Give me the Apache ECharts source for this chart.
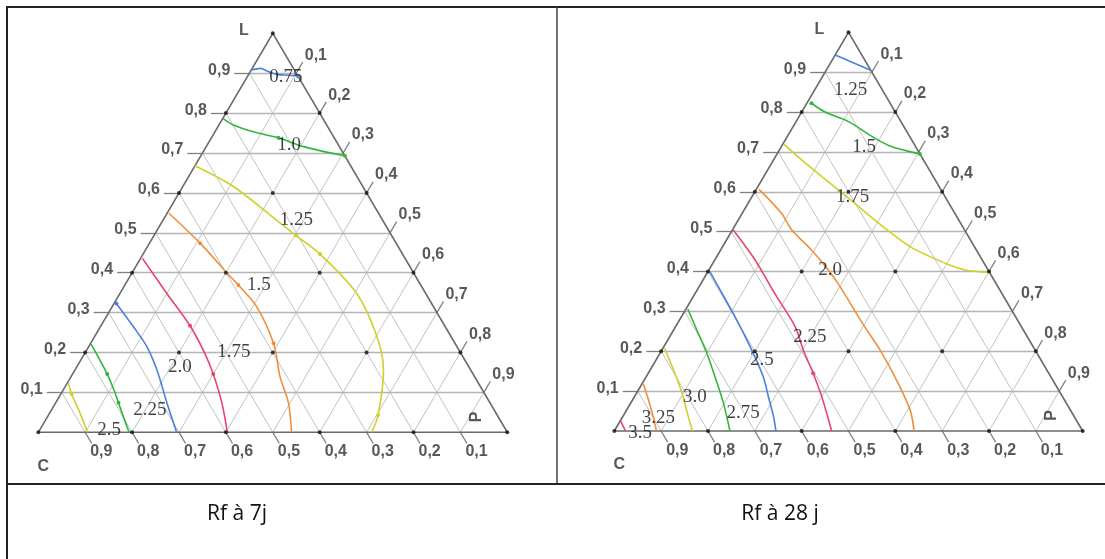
<!DOCTYPE html>
<html>
<head>
<meta charset="utf-8">
<script src="https://cdn.jsdelivr.net/npm/echarts@6/dist/echarts.min.js"></script>
<style>
  html, body { margin: 0; padding: 0; background: #ffffff; }
  #chart { width: 1105px; height: 559px; }
</style>
</head>
<body>
<div id="chart"></div>
<script>
// Ternary compositions are written as [L, P]; the third part is C = 1 - L - P.
// L sits at the top vertex, C at the bottom-left, P at the bottom-right.

const tickValues = [0.1, 0.2, 0.3, 0.4, 0.5, 0.6, 0.7, 0.8, 0.9];
const tickLabels = ['0,1', '0,2', '0,3', '0,4', '0,5', '0,6', '0,7', '0,8', '0,9'];
const markedSteps = [0, 0.2, 0.4, 0.6, 0.8, 1];

// Rf at 7 days
const rf7Labels = ['0.75', '1.0', '1.25', '1.5', '1.75', '2.0', '2.25', '2.5'];
const rf7Paths = [
  [[0.908, 0], [0.912, 0.018], [0.905, 0.036], [0.897, 0.06], [0.895, 0.085], [0.893, 0.107]],
  [[0.787, 0], [0.770, 0.031], [0.753, 0.082], [0.738, 0.143], [0.716, 0.207], [0.693, 0.307]],
  [[0.668, 0], [0.616, 0.108], [0.528, 0.248], [0.493, 0.303], [0.447, 0.377], [0.348, 0.505],
   [0.240, 0.602], [0.156, 0.658], [0.043, 0.703], [0, 0.711]],
  [[0.549, 0.004], [0.474, 0.108], [0.399, 0.203], [0.369, 0.242], [0.315, 0.308], [0.223, 0.39],
   [0.139, 0.446], [0.073, 0.497], [0, 0.54]],
  [[0.436, 0.004], [0.348, 0.1], [0.267, 0.19], [0.198, 0.256], [0.146, 0.3], [0.073, 0.355], [0, 0.403]],
  [[0.323, 0.005], [0.265, 0.07], [0.215, 0.124], [0.156, 0.175], [0.073, 0.238], [0, 0.295]],
  [[0.221, 0.002], [0.146, 0.074], [0.098, 0.115], [0.074, 0.134], [0.014, 0.182], [0, 0.194]],
  [[0.124, 0.002], [0.096, 0.023], [0.048, 0.065], [0, 0.105]]
];
const rf7LabelAt = [
  [0.890, 0.083], [0.720, 0.175], [0.532, 0.284], [0.369, 0.286],
  [0.202, 0.316], [0.164, 0.220], [0.056, 0.210], [0.006, 0.148]
];
const rf7Dots = [[5], [3, 5], [3, 4, 8], [1, 3, 5], [2, 4], [0], [1, 3], [1]];

// Rf at 28 days
const rf28Labels = ['1.25', '1.5', '1.75', '2.0', '2.25', '2.5', '2.75', '3.0', '3.25', '3.5'];
const rf28Paths = [
  [[0.943, 0], [0.925, 0.045], [0.905, 0.095]],
  [[0.822, 0.01], [0.800, 0.05], [0.776, 0.112], [0.734, 0.19], [0.713, 0.236], [0.695, 0.305]],
  [[0.719, 0.003], [0.680, 0.06], [0.638, 0.124], [0.571, 0.228], [0.509, 0.323], [0.460, 0.405],
   [0.421, 0.496], [0.404, 0.547], [0.398, 0.602]],
  [[0.606, 0.006], [0.546, 0.084], [0.504, 0.127], [0.454, 0.194], [0.404, 0.255], [0.362, 0.301],
   [0.266, 0.399], [0.203, 0.466], [0.136, 0.531], [0.053, 0.605], [0, 0.64]],
  [[0.504, 0.002], [0.429, 0.086], [0.345, 0.17], [0.262, 0.255], [0.203, 0.302], [0.145, 0.352],
   [0.086, 0.4], [0, 0.464]],
  [[0.400, 0.004], [0.362, 0.041], [0.287, 0.114], [0.203, 0.192], [0.136, 0.25], [0.086, 0.286],
   [0.036, 0.322], [0, 0.345]],
  [[0.306, 0.004], [0.262, 0.042], [0.195, 0.1], [0.136, 0.147], [0.07, 0.198], [0, 0.247]],
  [[0.207, 0.004], [0.153, 0.05], [0.095, 0.097], [0.036, 0.14], [0, 0.167]],
  [[0.118, 0.003], [0.078, 0.034], [0.036, 0.065], [0, 0.09]],
  [[0.026, 0], [0, 0.024]]
];
const rf28LabelAt = [
  [0.855, 0.077], [0.713, 0.177], [0.588, 0.215], [0.404, 0.259], [0.2365, 0.2995],
  [0.178, 0.226], [0.044, 0.253], [0.086, 0.129], [0.032, 0.078], [-0.006, 0.058]
];
const rf28Dots = [[], [0, 5], [], [], [5], [], [], [], [], []];

const captions = ['Rf à 7j', 'Rf à 28 j'];

// contour colours cycle through the same five hues
const palette = ['#4b7fe0', '#2fb83c', '#d0d02a', '#f08f3a', '#e8446c'];

function xy(L, P) { return [P + L / 2, L]; }

const TICK_FONT = { fontFamily: 'Liberation Sans, Arial, sans-serif', fontWeight: 'bold', fontSize: 16, color: '#2e2e2e' };

function panelSeries(gi, labels, paths, labelAt, dots) {
  const axes = { xAxisIndex: gi, yAxisIndex: gi };
  const series = [];

  // inner grid lines: horizontal (constant L) and the two diagonal families
  const levelLines = [];
  const diagLines = [];
  tickValues.forEach(k => {
    levelLines.push({ coords: [xy(k, 0), xy(k, 1 - k)] });
    diagLines.push({ coords: [xy(0, k), xy(1 - k, k)] });
    diagLines.push({ coords: [xy(0, 1 - k), xy(1 - k, 0)] });
  });
  series.push(Object.assign({
    type: 'lines', coordinateSystem: 'cartesian2d', silent: true, clip: false,
    lineStyle: { color: '#c2c2c2', width: 1, opacity: 1 }, data: diagLines, z: 1
  }, axes));
  series.push(Object.assign({
    type: 'lines', coordinateSystem: 'cartesian2d', silent: true, clip: false,
    lineStyle: { color: '#b4b4b4', width: 1.4, opacity: 1 }, data: levelLines, z: 1
  }, axes));

  // ticks outside the triangle
  const ticks = [];
  tickValues.forEach(k => {
    ticks.push({ coords: [xy(k, 0), xy(k, -0.032)] });
    ticks.push({ coords: [xy(1 - k, k), xy(1 - k + 0.028, k)] });
    ticks.push({ coords: [xy(0, 1 - k), xy(-0.028, 1 - k + 0.028)] });
  });
  series.push(Object.assign({
    type: 'lines', coordinateSystem: 'cartesian2d', silent: true, clip: false,
    lineStyle: { color: '#808080', width: 1.3, opacity: 1 }, data: ticks, z: 2
  }, axes));

  // triangle outline
  series.push(Object.assign({
    type: 'lines', coordinateSystem: 'cartesian2d', silent: true, clip: false, polyline: true,
    lineStyle: { color: '#6a6a6a', width: 1.6, opacity: 1 },
    data: [{ coords: [xy(0, 0), xy(0, 1), xy(1, 0), xy(0, 0)] }], z: 3
  }, axes));

  // contour lines
  paths.forEach((pts, i) => {
    series.push(Object.assign({
      type: 'line', smooth: 0.3, silent: true, clip: false, z: 5,
      symbol: 'circle', symbolSize: 4, showSymbol: true,
      lineStyle: { color: palette[i % 5], width: 1.6 },
      itemStyle: { color: palette[i % 5] },
      data: pts.map((p, j) => dots[i].includes(j)
        ? { value: xy(p[0], p[1]) }
        : { value: xy(p[0], p[1]), symbol: 'none' })
    }, axes));
  });

  // black markers at the 0.2 grid nodes
  const nodes = [];
  markedSteps.forEach(L => markedSteps.forEach(P => {
    if (L + P <= 1.0001) nodes.push(xy(L, P));
  }));
  series.push(Object.assign({
    type: 'scatter', silent: true, clip: false, symbolSize: 4, z: 6,
    itemStyle: { color: '#111' }, data: nodes
  }, axes));

  // axis tick labels
  series.push(Object.assign({
    type: 'scatter', silent: true, clip: false, symbolSize: 0, z: 7,
    label: Object.assign({ show: true, position: 'left', distance: 19, offset: [0, -3],
      formatter: p => p.data.name }, TICK_FONT),
    data: tickValues.map((k, i) => ({ name: tickLabels[i], value: xy(k, 0) }))
  }, axes));
  series.push(Object.assign({
    type: 'scatter', silent: true, clip: false, symbolSize: 0, z: 7,
    label: Object.assign({ show: true, position: 'right', distance: 8.5, offset: [0, -18],
      formatter: p => p.data.name }, TICK_FONT),
    data: tickValues.map((k, i) => ({ name: tickLabels[i], value: xy(1 - k, k) }))
  }, axes));
  series.push(Object.assign({
    type: 'scatter', silent: true, clip: false, symbolSize: 0, z: 7,
    label: Object.assign({ show: true, position: 'right', distance: 5, offset: [0, 19.4],
      formatter: p => p.data.name }, TICK_FONT),
    data: tickValues.map((k, i) => ({ name: tickLabels[i], value: xy(0, 1 - k) }))
  }, axes));

  // vertex names
  series.push(Object.assign({
    type: 'scatter', silent: true, clip: false, symbolSize: 0, z: 7,
    label: Object.assign({ show: true, position: 'inside', formatter: p => p.data.name }, TICK_FONT),
    data: [
      { name: 'L', value: xy(1, 0), label: { offset: [-29, -3] } },
      { name: 'C', value: xy(0, 0), label: { offset: [5, 34] } },
      { name: 'P', value: xy(0, 1), label: { offset: [15.5, -31], rotate: 90 } }
    ]
  }, axes));

  // contour value labels
  series.push(Object.assign({
    type: 'scatter', silent: true, clip: false, symbolSize: 0, z: 8,
    label: { show: true, position: 'inside', formatter: p => p.data.name,
      fontFamily: 'Liberation Serif, Times New Roman, serif', fontSize: 19, color: '#111' },
    data: labelAt.map((p, i) => ({ name: labels[i], value: xy(p[0], p[1]) }))
  }, axes));

  return series;
}

const chart = echarts.init(document.getElementById('chart'), null, { renderer: 'canvas' });

const hiddenAxis = gi => ({ type: 'value', min: 0, max: 1, show: false, gridIndex: gi });

chart.setOption({
  animation: false,
  backgroundColor: '#ffffff',
  grid: [
    { left: 38.3, top: 33.3, width: 469, height: 399 },
    { left: 614.3, top: 32.3, width: 468.4, height: 398.7 }
  ],
  xAxis: [hiddenAxis(0), hiddenAxis(1)],
  yAxis: [hiddenAxis(0), hiddenAxis(1)],
  series: [].concat(
    panelSeries(0, rf7Labels, rf7Paths, rf7LabelAt, rf7Dots),
    panelSeries(1, rf28Labels, rf28Paths, rf28LabelAt, rf28Dots)
  ),
  graphic: [
    { type: 'line', shape: { x1: 7, y1: 7, x2: 1105, y2: 7 }, style: { stroke: '#222', lineWidth: 2 } },
    { type: 'line', shape: { x1: 7, y1: 6, x2: 7, y2: 559 }, style: { stroke: '#222', lineWidth: 2 } },
    { type: 'line', shape: { x1: 557, y1: 7, x2: 557, y2: 484 }, style: { stroke: '#444', lineWidth: 1.5 } },
    { type: 'line', shape: { x1: 7, y1: 484, x2: 1105, y2: 484 }, style: { stroke: '#222', lineWidth: 2 } },
    { type: 'text', x: 237, y: 514, style: { text: captions[0], textAlign: 'center', textVerticalAlign: 'middle',
      font: '21px "Open Sans", sans-serif', fill: '#111' } },
    { type: 'text', x: 780, y: 514, style: { text: captions[1], textAlign: 'center', textVerticalAlign: 'middle',
      font: '21px "Open Sans", sans-serif', fill: '#111' } }
  ]
});
</script>
</body>
</html>
